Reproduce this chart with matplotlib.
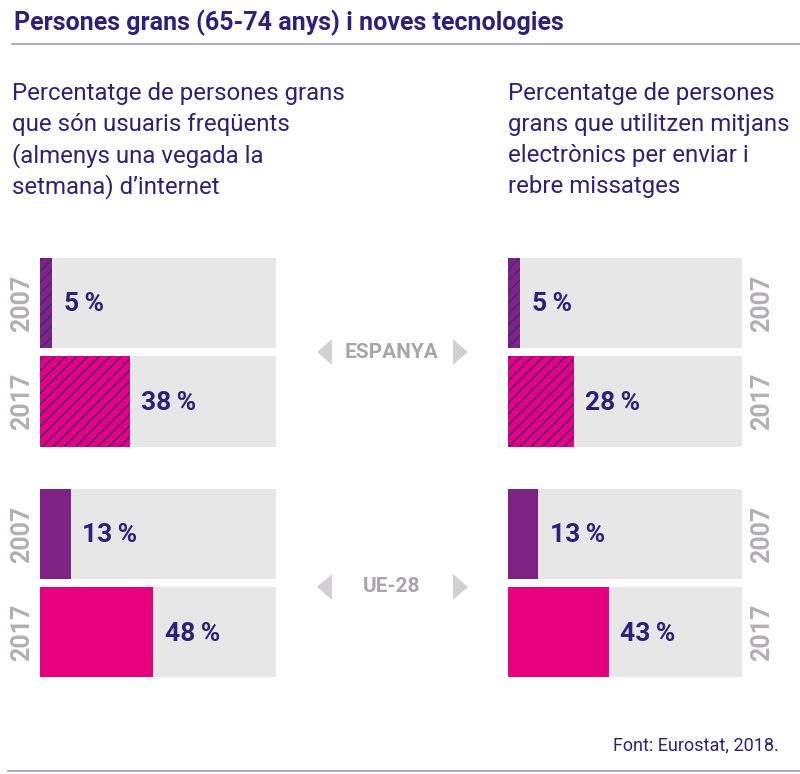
import matplotlib.pyplot as plt
from matplotlib.patches import Polygon
from matplotlib.lines import Line2D

# dades (Eurostat, 2018)
years = ['2007', '2017']
regions = ['ESPANYA', 'UE-28']
internet_esp = [5, 38]
internet_ue = [13, 48]
missatges_esp = [5, 28]
missatges_ue = [13, 43]

title = 'Persones grans (65-74 anys) i noves tecnologies'
subtitle_left = ['Percentatge de persones grans', 'que són usuaris freqüents',
                 '(almenys una vegada la', 'setmana) d\u2019internet']
subtitle_right = ['Percentatge de persones', 'grans que utilitzen mitjans',
                  'electrònics per enviar i', 'rebre missatges']
source = 'Font: Eurostat, 2018.'

INDIGO = '#2d2179'
GRAY_BG = '#e8e7e8'
GRAY_TXT = '#b3afb3'
GRAY_TRI = '#d2d0d3'
PURPLE = '#7e2283'
PINK = '#e6007e'
HATCH_COL = '#3c2a8a'
LINE_COL = '#a09ac8'

plt.rcParams['font.family'] = ['Roboto', 'DejaVu Sans']
plt.rcParams['hatch.linewidth'] = 1.0

W, H = 800, 774
fig = plt.figure(figsize=(W / 100, H / 100), dpi=100)


def fx(px):
    return px / W


def fy(py):
    return 1 - py / H


# capçalera
fig.text(fx(14), fy(30), title, fontsize=18, fontweight='bold', color=INDIGO,
         va='baseline')
fig.add_artist(Line2D([fx(12), 1], [fy(43.5), fy(43.5)], color=LINE_COL, lw=1.2))
fig.add_artist(Line2D([fx(8), 1], [fy(771), fy(771)], color=LINE_COL, lw=1.2))

for i, (l, r) in enumerate(zip(subtitle_left, subtitle_right)):
    fig.text(fx(12), fy(100 + 31 * i), l, fontsize=17.3, color=INDIGO, va='baseline')
    fig.text(fx(508), fy(100 + 31 * i), r, fontsize=17.3, color=INDIGO, va='baseline')
fig.text(fx(779), fy(750), source, fontsize=13, color=INDIGO, ha='right',
         va='baseline')

# posicions de les files (2007/2017 per Espanya i UE-28)
ypos = [0, 1, 2.345, 3.345]
bar_h = 0.914


def draw_panel(rect, esp, ue, side):
    ax = fig.add_axes(rect)
    vals = esp + ue
    colors = [PURPLE, PINK, PURPLE, PINK]
    hatches = ['///', '///', None, None]
    ax.barh(ypos, [100] * 4, height=bar_h, color=GRAY_BG, lw=0)
    for y, v, c, h in zip(ypos, vals, colors, hatches):
        if h:
            ax.barh(y, v, height=bar_h, facecolor=c, edgecolor=HATCH_COL,
                    hatch=h, lw=0)
        else:
            ax.barh(y, v, height=bar_h, color=c, lw=0)
        ax.annotate(f'{v}\u2009%', xy=(v, y), xytext=(8.5, -1),
                    textcoords='offset points', va='center', ha='left',
                    fontsize=19, fontweight='bold', color=INDIGO)
    labels = years + years
    for y, lab in zip(ypos, labels):
        if side == 'left':
            ax.annotate(lab, xy=(0, y), xycoords=('axes fraction', 'data'),
                        xytext=(-18 * 0.72, 0), textcoords='offset points',
                        rotation=90, ha='center', va='center', fontsize=18,
                        fontweight='bold', color=GRAY_TXT)
        else:
            ax.annotate(lab, xy=(1, y), xycoords=('axes fraction', 'data'),
                        xytext=(20 * 0.72, 0), textcoords='offset points',
                        rotation=90, ha='center', va='center', fontsize=18,
                        fontweight='bold', color=GRAY_TXT)
    ax.set_xlim(0, 100)
    ax.set_ylim(3.797, -0.457)
    ax.axis('off')
    return ax


draw_panel([fx(40), fy(677), 236 / W, 419 / H], internet_esp, internet_ue, 'left')
draw_panel([fx(508), fy(677), 234 / W, 419 / H], missatges_esp, missatges_ue, 'right')

# etiquetes de regió amb fletxes
for reg, cy in zip(regions, [352, 587]):
    fig.text(fx(392), fy(cy), reg, fontsize=15, fontweight='bold',
             color='#a9a5a9', ha='center', va='center')
    fig.add_artist(Polygon([(fx(317), fy(cy)), (fx(332), fy(cy - 13)),
                            (fx(332), fy(cy + 13))], closed=True,
                           transform=fig.transFigure, color=GRAY_TRI, lw=0))
    fig.add_artist(Polygon([(fx(468), fy(cy)), (fx(453), fy(cy - 13)),
                            (fx(453), fy(cy + 13))], closed=True,
                           transform=fig.transFigure, color=GRAY_TRI, lw=0))

fig.savefig('out.png', dpi=100)
